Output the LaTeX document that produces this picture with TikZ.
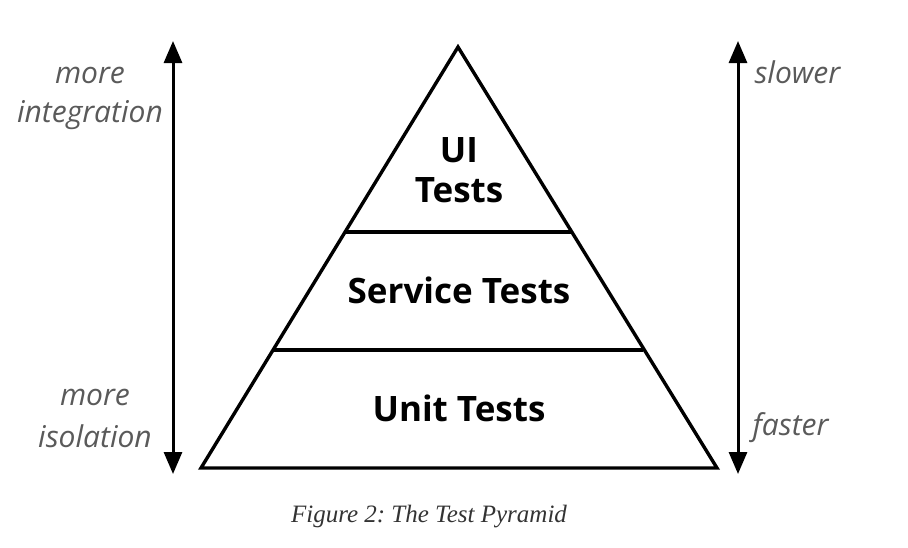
\documentclass[tikz,border=0pt]{standalone}
\usepackage{fontspec}
\setmainfont{Open Sans}
\newfontfamily\capfont{Liberation Serif}
\usetikzlibrary{arrows.meta}
\frenchspacing
\definecolor{labelgray}{HTML}{5A5A5A}
\definecolor{capgray}{HTML}{333333}
\tikzset{
  edge/.style={line width=3.4pt, line join=miter},
  vertarrow/.style={line width=3pt, {Triangle[length=22pt,width=18pt]}-{Triangle[length=22pt,width=18pt]}},
  layer/.style={font=\fontsize{35}{40}\selectfont\bfseries, text=black, align=center},
  side/.style={font=\fontsize{30}{34}\selectfont\itshape, text=labelgray},
  captext/.style={font=\capfont\fontsize{25}{29}\selectfont\itshape, text=capgray}
}
\begin{document}
\begin{tikzpicture}[x=1pt,y=-1pt]
\useasboundingbox (0,0) rectangle (908,547);
\coordinate (apex) at (458,47);
\coordinate (bl) at (201,468);
\coordinate (br) at (717,468);
\coordinate (l1) at (345,232);
\coordinate (r1) at (571,232);
\coordinate (l2) at (273,350);
\coordinate (r2) at (643,350);
\draw[edge] (apex) -- (br) -- (bl) -- cycle;
\draw[edge] (l1) -- (r1);
\draw[edge] (l2) -- (r2);
\node[layer] (ui) at (459,150) {UI};
\node[layer] (uit) at (459,190) {Tests};
\node[layer] (svc) at (459,290) {Service Tests};
\node[layer] (unit) at (459,408) {Unit Tests};
\coordinate (lt) at (173,41);
\coordinate (lb) at (173,474);
\coordinate (rt) at (738,41);
\coordinate (rb) at (738,474);
\draw[vertarrow] (lb) -- (lt);
\draw[vertarrow] (rb) -- (rt);
\node[side] (m1) at (90,75) {more};
\node[side] (integ) at (90,115) {integration};
\node[side] (m2) at (95,397) {more};
\node[side] (iso) at (95,436) {isolation};
\node[side, anchor=west] (slow) at (751,72) {slower};
\node[side, anchor=west] (fast) at (749,428) {faster};
\node[captext] (caption) at (429,517) {Figure 2: The Test Pyramid};
\end{tikzpicture}
\end{document}
